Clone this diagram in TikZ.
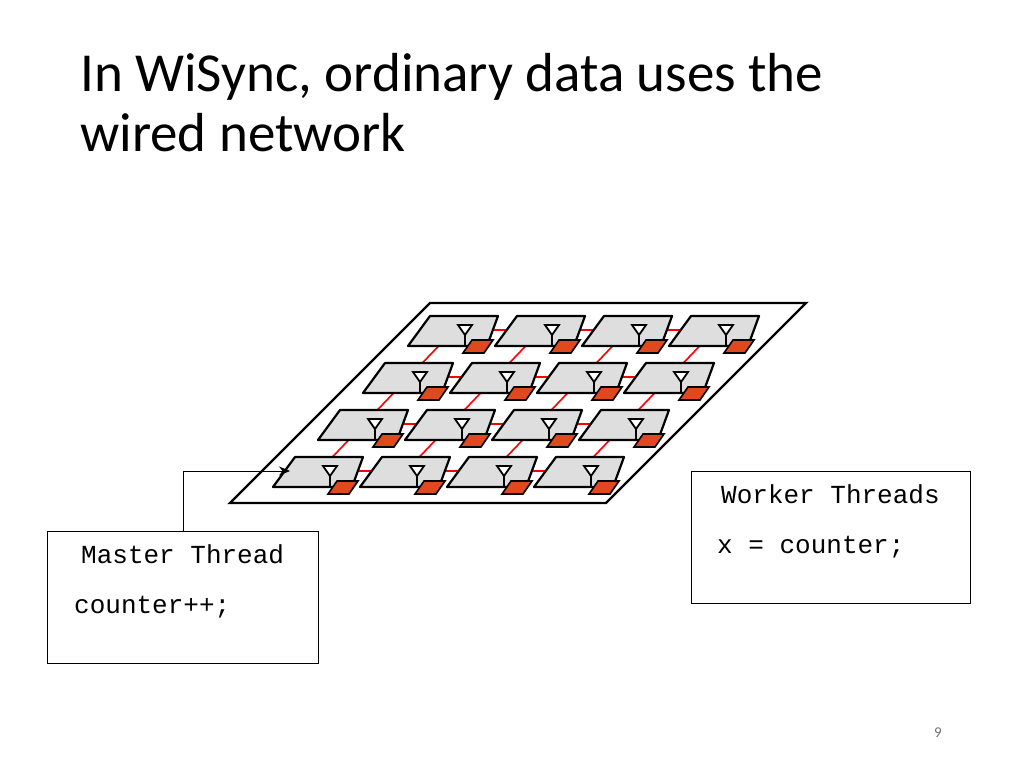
\documentclass[tikz,border=0pt]{standalone}
\usepackage{fontspec}
\setmainfont{Carlito}
\newfontfamily\monof{Liberation Mono}
\usetikzlibrary{arrows.meta}
\definecolor{chipc}{HTML}{E0481E}
\begin{document}
\begin{tikzpicture}[x=1pt,y=-1pt,
  tile/.style={draw=black,line width=2.2pt,fill=black!13,line join=round},
  chip/.style={draw=black,line width=1.6pt,fill=chipc},
  ant/.style={draw=black,line width=1.8pt,fill=white},
  link/.style={draw=red,line width=1.6pt},
  box/.style={draw=black,line width=1.2pt},
  code/.style={font=\monof\fontsize{26}{30}\selectfont,anchor=west,inner sep=0pt}]
\useasboundingbox (0,0) rectangle (1024,768);
\node[anchor=north west,align=left,font=\fontsize{55}{60}\selectfont,inner sep=0pt] (title) at (80,53) {In WiSync, ordinary data uses the\\wired network};
\draw[line width=2.4pt] (430,303) -- (806,303) -- (606,503) -- (230,503) -- cycle;
% links
\foreach \r in {0,...,3}{\foreach \c in {0,...,3}{
  \pgfmathsetmacro\x{430+87*\c-45*\r}\pgfmathsetmacro\y{316+47*\r}
  \ifnum\c<3 \draw[link] (\x+23,\y+14) -- ++(87,0);\fi
  \ifnum\r<3 \draw[link] (\x+23,\y+15) -- ++(-45,47);\fi
}}
\foreach \r in {0,...,3}{\foreach \c in {0,...,3}{
  \pgfmathsetmacro\x{430+87*\c-45*\r}\pgfmathsetmacro\y{316+47*\r}
  \draw[tile] (\x,\y) -- ++(68,0) -- ++(-11,30) -- ++(-79,0) -- cycle;
  \draw[ant] (\x+28,\y+9) -- (\x+42,\y+9) -- (\x+35,\y+19) -- cycle;
  \draw[line width=1.8pt] (\x+35,\y+19) -- (\x+35,\y+30);
  \draw[chip] (\x+42,\y+24) -- (\x+63,\y+24) -- (\x+54,\y+37) -- (\x+33,\y+37) -- cycle;
}}
\node[box,minimum width=271pt,minimum height=132pt,anchor=north west] (master) at (47,531) {};
\node[code] (mt) at (81,554) {Master Thread};
\node[code] (mc) at (74,607) {counter++;};
\node[box,minimum width=279pt,minimum height=132pt,anchor=north west] (worker) at (691,471) {};
\node[code] (wt) at (721,494) {Worker Threads};
\node[code] (wc) at (717,547) {x = counter;};
\coordinate (tgt) at (290,471);
\draw[line width=0.8pt,-{Stealth[length=11pt,width=9pt]}] (master.north -| 183,0) |- (tgt);
\node[font=\fontsize{15}{16}\selectfont,text=black!55] (pg) at (938,733) {9};
\end{tikzpicture}
\end{document}
